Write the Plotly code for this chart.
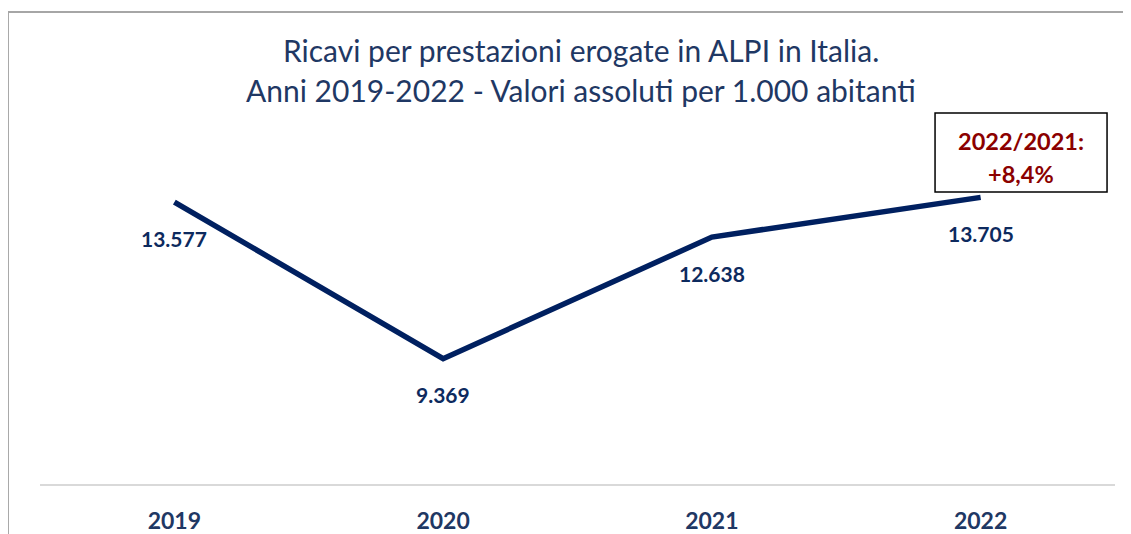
import plotly.graph_objects as go

years = ["2019", "2020", "2021", "2022"]
values = [13577, 9369, 12638, 13705]
labels = ["13.577", "9.369", "12.638", "13.705"]
title_lines = ["Ricavi per prestazioni erogate in ALPI in Italia.",
               "Anni 2019-2022 - Valori assoluti per 1.000 abitanti"]
box_lines = ["2022/2021:", "+8,4%"]

NAVY = "#002060"
TXT = "#1F3864"
FONT = "Lato, Calibri, 'Open Sans', sans-serif"

xpos = list(range(len(years)))

fig = go.Figure()
fig.add_trace(go.Scatter(
    x=xpos, y=values, mode="lines",
    line=dict(color=NAVY, width=5.5),
    hoverinfo="skip", showlegend=False,
))

for xi, v, lab in zip(xpos, values, labels):
    fig.add_annotation(x=xi, y=v, xref="x", yref="y", text=f"<b>{lab}</b>",
                       showarrow=False, yshift=-36,
                       xanchor="center", yanchor="middle",
                       font=dict(family=FONT, size=21, color="#0D2A5E"))

# comparison box
fig.add_shape(type="rect", xref="paper", yref="paper",
              x0=0.8326, x1=0.9926, y0=0.7849, y1=0.9973,
              line=dict(color="#000000", width=1.5), fillcolor="white")
for line, yp in zip(box_lines, [0.922, 0.833]):
    fig.add_annotation(xref="paper", yref="paper", x=0.9126, y=yp,
                       xanchor="center", yanchor="middle",
                       text=f"<b>{line}</b>", showarrow=False,
                       font=dict(family=FONT, size=23.5, color="#8B0000"))

for line, yp in zip(title_lines, [1.166, 1.058]):
    fig.add_annotation(xref="paper", yref="paper", x=0.5028, y=yp,
                       xanchor="center", yanchor="middle", text=line,
                       showarrow=False,
                       font=dict(family=FONT, size=30, color=TXT))

fig.add_shape(type="line", xref="paper", yref="paper",
              x0=-0.0298, x1=-0.0298, y0=-0.2, y1=1.2688,
              line=dict(color="#A6A6A6", width=2))
fig.add_shape(type="line", xref="paper", yref="paper",
              x0=-0.0298, x1=1.1, y0=1.2688, y1=1.2688,
              line=dict(color="#A6A6A6", width=2))

fig.update_layout(
    width=1123, height=526,
    margin=dict(l=32, r=16, t=104, b=50, autoexpand=False),
    paper_bgcolor="white", plot_bgcolor="white",
    xaxis=dict(range=[-0.5, len(years) - 0.5], autorange=False,
               automargin=False,
               tickmode="array", tickvals=xpos,
               ticktext=[f"<b>{y}</b>" for y in years],
               showgrid=False, showline=True,
               linecolor="#D9D9D9", linewidth=2,
               ticks="", ticklabelstandoff=15, zeroline=False,
               tickfont=dict(family=FONT, size=23, color=TXT),
               fixedrange=True),
    yaxis=dict(range=[6000, 16000], autorange=False, visible=False,
               automargin=False, showgrid=False, fixedrange=True),
)

fig.write_html("out.html")
